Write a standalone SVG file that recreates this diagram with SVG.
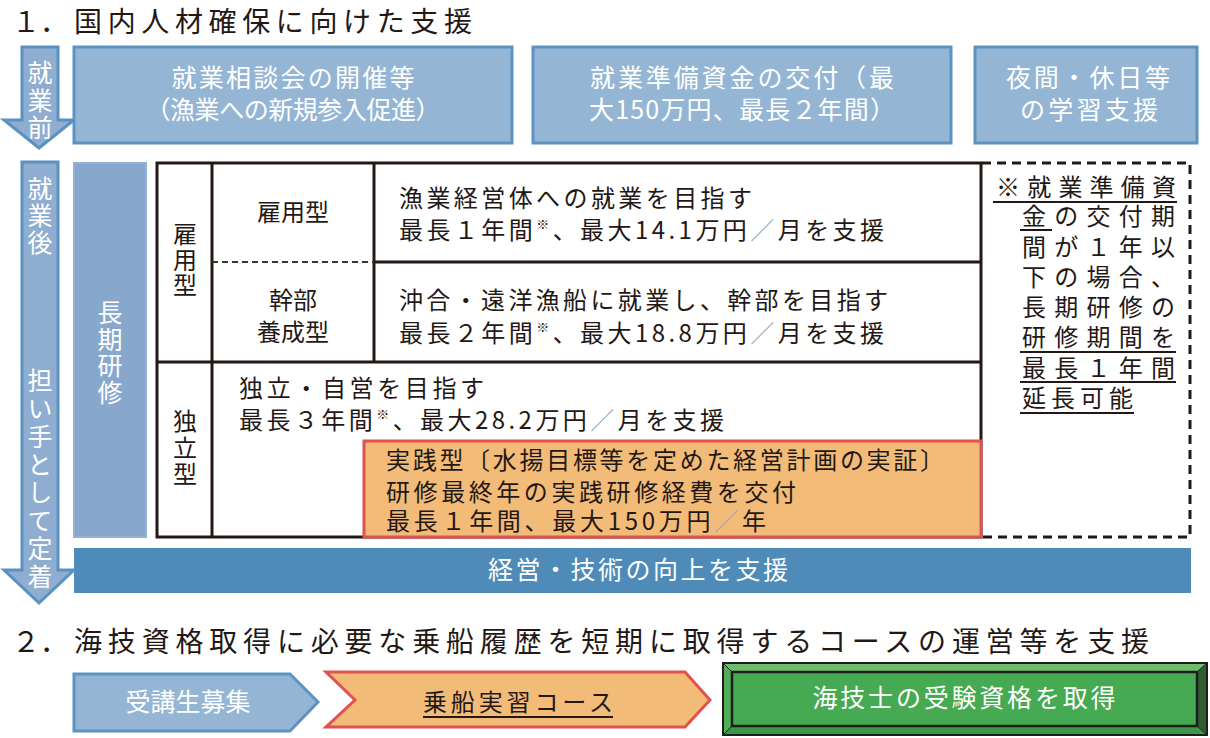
<svg xmlns="http://www.w3.org/2000/svg" width="1210" height="738" viewBox="0 0 1210 738">
<style>
text{font-family:"Noto Sans CJK JP","Noto Sans CJK SC",sans-serif;}
.t{fill:#231815;font-size:24px;}
.w{fill:#ffffff;font-size:25px;}
.h{fill:#231815;font-size:28px;}
.v{writing-mode:vertical-rl;}
.arrow{fill:#8eadd0;stroke:#5b91c1;stroke-width:3;}
.box{fill:#94b6d4;stroke:#5c93c2;stroke-width:3;}
.grid{stroke:#231815;stroke-width:3;fill:none;}
.sl{fill:#9aa8b4;}
.ul{stroke:#231815;stroke-width:2;}
</style>
<rect width="1210" height="738" fill="#ffffff"/>

<g id="title1">
<text class="h" x="12" y="32">１．</text>
<text class="h" x="74" y="32" textLength="398" lengthAdjust="spacing">国内人材確保に向けた支援</text>
</g>

<g id="arrow-before">
<path class="arrow" d="M22,47 H58 V120 H74 L39,148 L4,120 H22 Z"/>
<text class="w v" x="40" y="60" font-size="24" letter-spacing="2.5">就業前</text>
</g>

<g id="box-consult">
<rect class="box" x="74" y="47" width="438" height="96"/>
<text class="w" x="293" y="87" text-anchor="middle" textLength="243" lengthAdjust="spacing">就業相談会の開催等</text>
<text class="w" x="293" y="119" text-anchor="middle" textLength="295" lengthAdjust="spacing">（漁業への新規参入促進）</text>
</g>

<g id="box-fund">
<rect class="box" x="533" y="47" width="418" height="96"/>
<text class="w" x="742" y="87" text-anchor="middle" textLength="304" lengthAdjust="spacing">就業準備資金の交付（最</text>
<text class="w" x="742" y="119" text-anchor="middle" textLength="306" lengthAdjust="spacing">大150万円、最長２年間）</text>
</g>

<g id="box-night">
<rect class="box" x="975" y="47" width="222" height="96"/>
<text class="w" x="1088" y="87" text-anchor="middle" textLength="164" lengthAdjust="spacing">夜間・休日等</text>
<text class="w" x="1089" y="119" text-anchor="middle" textLength="138" lengthAdjust="spacing">の学習支援</text>
</g>

<g id="arrow-after">
<path class="arrow" d="M22,162 H58 V570 H74 L39,603 L4,570 H22 Z"/>
<text class="w v" x="40" y="176" font-size="24" letter-spacing="2">就業後</text>
<text class="w v" x="40" y="368" font-size="24" letter-spacing="3">担い手として定着</text>
</g>

<g id="box-longterm">
<rect x="74" y="163" width="72" height="374" fill="#87a8cc" stroke="#93b3d4" stroke-width="2"/>
<text class="w v" x="110" y="300" font-size="25" letter-spacing="1.5">長期研修</text>
</g>

<g id="note">
<path d="M982,163 H1190 V537 H982" fill="none" stroke="#231815" stroke-width="3" stroke-dasharray="9 6"/>
<text class="t" x="996" y="196" textLength="180" lengthAdjust="spacing">※就業準備資</text>
<text class="t" x="1022" y="225" textLength="153" lengthAdjust="spacing">金の交付期</text>
<text class="t" x="1022" y="256" textLength="153" lengthAdjust="spacing">間が１年以</text>
<text class="t" x="1022" y="286" textLength="153" lengthAdjust="spacing">下の場合、</text>
<text class="t" x="1022" y="316" textLength="153" lengthAdjust="spacing">長期研修の</text>
<text class="t" x="1022" y="346" textLength="153" lengthAdjust="spacing">研修期間を</text>
<text class="t" x="1022" y="377" textLength="153" lengthAdjust="spacing">最長１年間</text>
<text class="t" x="1022" y="407" textLength="111" lengthAdjust="spacing">延長可能</text>
<line class="ul" x1="993" y1="202" x2="1177" y2="202"/>
<line class="ul" x1="1020" y1="230" x2="1052" y2="230"/>
<line class="ul" x1="1020" y1="352" x2="1176" y2="352"/>
<line class="ul" x1="1020" y1="382" x2="1176" y2="382"/>
<line class="ul" x1="1020" y1="413" x2="1134" y2="413"/>
</g>

<g id="table">
<rect class="grid" x="157" y="163" width="824" height="374"/>
<line class="grid" x1="212" y1="163" x2="212" y2="537"/>
<line class="grid" x1="374" y1="163" x2="374" y2="362"/>
<line class="grid" x1="157" y1="362" x2="981" y2="362"/>
<line class="grid" x1="374" y1="262" x2="981" y2="262"/>
<line x1="212" y1="262" x2="374" y2="262" stroke="#2f3a2a" stroke-width="2" stroke-dasharray="6 4"/>
<text class="t v" x="185" y="222" font-size="25" letter-spacing="1.5">雇用型</text>
<text class="t v" x="185" y="409" font-size="25" letter-spacing="2.5">独立型</text>
<text class="t" x="293" y="221" text-anchor="middle">雇用型</text>
<text class="t" x="293" y="309" text-anchor="middle">幹部</text>
<text class="t" x="293" y="341" text-anchor="middle">養成型</text>
<text class="t" x="399" y="207" textLength="353" lengthAdjust="spacing">漁業経営体への就業を目指す</text>
<text class="t" x="399" y="239" textLength="485" lengthAdjust="spacing">最長１年間<tspan font-size="13" dy="-10">※</tspan><tspan dy="10">、最大14.1万円</tspan><tspan class="sl">／</tspan>月を支援</text>
<text class="t" x="399" y="309" textLength="489" lengthAdjust="spacing">沖合・遠洋漁船に就業し、幹部を目指す</text>
<text class="t" x="399" y="342" textLength="485" lengthAdjust="spacing">最長２年間<tspan font-size="13" dy="-10">※</tspan><tspan dy="10">、最大18.8万円</tspan><tspan class="sl">／</tspan>月を支援</text>
<text class="t" x="239" y="397" textLength="245" lengthAdjust="spacing">独立・自営を目指す</text>
<text class="t" x="239" y="429" textLength="485" lengthAdjust="spacing">最長３年間<tspan font-size="13" dy="-10">※</tspan><tspan dy="10">、最大28.2万円</tspan><tspan class="sl">／</tspan>月を支援</text>
</g>

<g id="box-practice">
<rect x="364" y="441" width="617" height="96" fill="#f3bb78" stroke="#e0514f" stroke-width="3"/>
<text class="t" x="386" y="469" textLength="558" lengthAdjust="spacing">実践型〔水揚目標等を定めた経営計画の実証〕</text>
<text class="t" x="386" y="501" textLength="410" lengthAdjust="spacing">研修最終年の実践研修経費を交付</text>
<text class="t" x="386" y="530" textLength="380" lengthAdjust="spacing">最長１年間、最大150万円<tspan class="sl">／</tspan>年</text>
</g>

<g id="bar-skill">
<rect x="74" y="548" width="1117" height="45" fill="#4e8bb8"/>
<text class="w" x="638" y="579" text-anchor="middle" textLength="300" lengthAdjust="spacing">経営・技術の向上を支援</text>
</g>

<g id="title2">
<text class="h" x="12" y="652">２．</text>
<text class="h" x="74" y="652" textLength="1075" lengthAdjust="spacing">海技資格取得に必要な乗船履歴を短期に取得するコースの運営等を支援</text>
</g>

<g id="connectors">
</g>

<g id="step-recruit">
<path d="M74,674 H290 L318,702 L290,731 H74 Z" fill="#94b6d4" stroke="#5c93c2" stroke-width="3"/>
<text class="w" font-size="26" x="188" y="711" text-anchor="middle">受講生募集</text>
</g>

<g id="step-course">
<path d="M326,672 H685 L710,700 L685,727 H326 L355,700 Z" fill="#f3bb78" stroke="#e0514f" stroke-width="3"/>
<text class="t" font-size="26" x="518" y="711" text-anchor="middle" textLength="190" lengthAdjust="spacing">乗船実習コース</text>
<line class="ul" x1="423" y1="717" x2="613" y2="717"/>
</g>

<g id="step-license">
<rect x="723" y="663" width="484" height="72" fill="#45aa52"/>
<polygon points="723,663 1207,663 1197,672 732,672" fill="#6dbd6c"/>
<polygon points="723,663 732,672 732,726 723,735" fill="#52ad58"/>
<polygon points="1207,663 1207,735 1197,726 1197,672" fill="#2e5d32"/>
<polygon points="723,735 1207,735 1197,726 732,726" fill="#3e9746"/>
<rect x="723" y="663" width="484" height="72" fill="none" stroke="#1e1e1e" stroke-width="2"/>
<rect x="732" y="672" width="465" height="54" fill="none" stroke="#1e1e1e" stroke-width="2.5"/>
<line x1="723" y1="663" x2="732" y2="672" stroke="#1e1e1e" stroke-width="1"/>
<line x1="1207" y1="663" x2="1197" y2="672" stroke="#1e1e1e" stroke-width="1"/>
<line x1="723" y1="735" x2="732" y2="726" stroke="#1e1e1e" stroke-width="1"/>
<line x1="1207" y1="735" x2="1197" y2="726" stroke="#1e1e1e" stroke-width="1"/>
<text class="w" x="964" y="707" text-anchor="middle" textLength="303" lengthAdjust="spacing">海技士の受験資格を取得</text>
</g>
</svg>
